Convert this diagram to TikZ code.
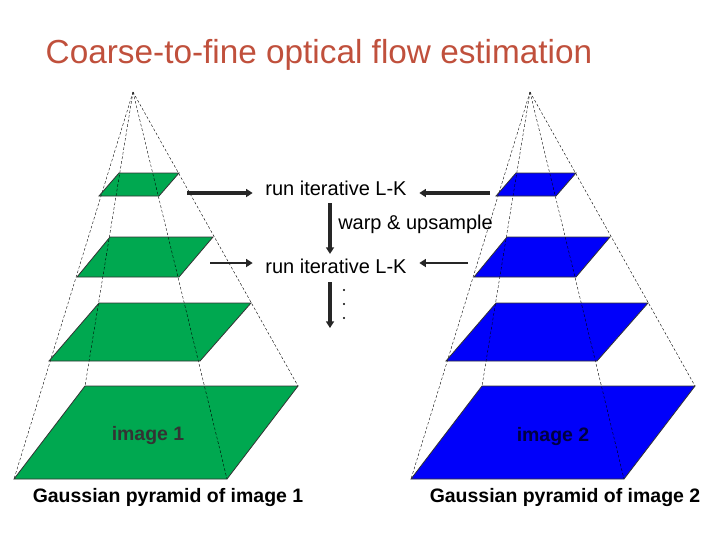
\documentclass[tikz,border=0pt]{standalone}
\usepackage{fontspec}
\setmainfont{Liberation Sans}
\usetikzlibrary{positioning,arrows.meta,calc}
\definecolor{pyrgreen}{RGB}{0,168,80}
\definecolor{pyrblue}{RGB}{0,0,250}
\definecolor{titlered}{RGB}{192,80,60}
\begin{document}
\begin{tikzpicture}[x=0.75pt,y=-0.75pt]

  \tikzset{
    lay/.style={draw=black!80,line width=0.6pt},
    guide/.style={dashed,line width=0.3pt,dash pattern=on 2pt off 1.5pt},
    bigarr/.style={-{Triangle[length=5pt,width=6pt]},line width=2.6pt,black!85},
    smallarr/.style={-{Triangle[length=5pt,width=6pt]},line width=1.8pt,black!85},
    lbl/.style={font=\fontsize{15}{18}\selectfont},
    captxt/.style={font=\bfseries\fontsize{14.6}{18}\selectfont},
  }
  \useasboundingbox (0,0) rectangle (720,540);

  \node[text=titlered,font=\fontsize{25}{30}\selectfont] (title) at (319,55) {Coarse-to-fine optical flow estimation};

  % pyramids: shift, colour, name
  \foreach \sx/\col/\nm in {0/pyrgreen/L,397/pyrblue/R}{
    \begin{scope}[xshift=\sx*0.75pt]
      \coordinate (\nm apex) at (133,92);
      \foreach \ty/\tl/\tr/\by/\bl/\br in
        {173/119/179/196/99/159, 237/110/213/277/77/179,
         303/99/251/361/49/200, 386/85/298/479/14/227}
        \fill[\col] (\tl,\ty) -- (\tr,\ty) -- (\br,\by) -- (\bl,\by) -- cycle;
      \foreach \px/\py in {14/479,85/386,227/479,298/386}
        \draw[guide] (\nm apex) -- (\px,\py);
      \foreach \ty/\tl/\tr/\by/\bl/\br in
        {173/119/179/196/99/159, 237/110/213/277/77/179,
         303/99/251/361/49/200, 386/85/298/479/14/227}
        \draw[lay] (\tl,\ty) -- (\tr,\ty) -- (\br,\by) -- (\bl,\by) -- cycle;
    \end{scope}
  }

  \node[captxt,text=black!80] (img1) at (148,435) {image 1};
  \node[captxt,text=black!75!blue] (img2) at (553,436) {image 2};
  \node[captxt] (cap1) at (168,497) {Gaussian pyramid of image 1};
  \node[captxt] (cap2) at (565,497) {Gaussian pyramid of image 2};

  \node[lbl] (run1) at (336,188) {run iterative L-K};
  \node[lbl] (run2) at (336,266) {run iterative L-K};
  \node[lbl,anchor=west,inner sep=0pt] (warp) at (338,224) {warp \& upsample};

  \coordinate (a1) at (187,193); \coordinate (b1) at (490,193);
  \coordinate (a2) at (210,263); \coordinate (b2) at (468,263);
  \draw[bigarr,shorten >=6pt] (a1) -- (run1.west |- a1);
  \draw[bigarr,shorten >=6pt] (b1) -- (run1.east |- b1);
  \draw[smallarr,shorten >=6pt] (a2) -- (run2.west |- a2);
  \draw[smallarr,shorten >=6pt] (b2) -- (run2.east |- b2);

  \coordinate (d0) at (330,282); \coordinate (d1) at (330,328);
  \draw[bigarr] (330,203) -- (run2.north -| d0);
  \draw[bigarr] (d0) -- (d1);
  \foreach \dy in {290,304,318}
    \fill (344,\dy) circle (0.9pt);
\end{tikzpicture}
\end{document}
